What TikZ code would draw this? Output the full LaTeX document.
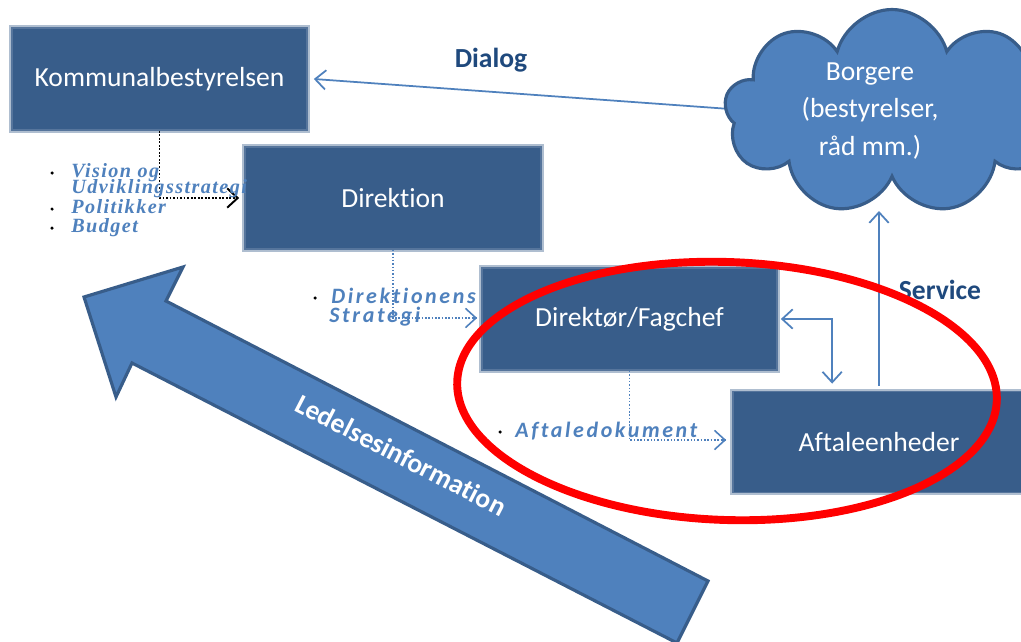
\documentclass[tikz,border=0pt]{standalone}
\usepackage{fontspec}
\setmainfont[Ligatures=CommonOff]{Carlito}
\newfontfamily\serifbullet[LetterSpace=7,Ligatures=CommonOff]{Liberation Serif}
\newfontfamily\sansbullet[LetterSpace=12,Ligatures=CommonOff]{Carlito}
\usetikzlibrary{shapes.symbols,arrows.meta,calc}
\definecolor{boxblue}{HTML}{385D8A}
\definecolor{accblue}{HTML}{4F81BD}
\definecolor{labblue}{HTML}{1F497D}
\begin{document}
\begin{tikzpicture}[x=0.02cm,y=-0.02cm,
  orgbox/.style={fill=boxblue, draw=boxblue!85!white, line width=1pt,
    preaction={draw=boxblue!40!white, line width=3pt},
    text=white, font=\fontsize{15.7}{19}\selectfont,
    minimum width=5.9cm, minimum height=2.04cm, inner sep=0pt},
  barb/.style={-{Straight Barb[length=6pt,width=11pt]}},
  conn/.style={draw=accblue, line width=1pt},
  blkdot/.style={draw=black, line width=1.1pt, dash pattern=on 1pt off 1pt},
  bludot/.style={draw=accblue, line width=0.9pt, dash pattern=on 0.9pt off 1pt},
  label/.style={text=labblue, font=\fontsize{15.7}{19}\selectfont\bfseries},
  bdot/.style={circle, fill=black, inner sep=0pt, minimum size=0.07cm},
  sbul/.style={anchor=base west, inner sep=0pt, text=accblue, font=\serifbullet\fontsize{11.5}{13}\selectfont\bfseries\itshape},
  cbul/.style={anchor=base west, inner sep=0pt, text=accblue, font=\sansbullet\fontsize{12.5}{14}\selectfont\bfseries\itshape},
  bigarrow/.style={fill=accblue, draw=boxblue, line width=1.8pt, line join=miter}
]
\clip (0,0) rectangle (1021,642);
\fill[white] (0,0) rectangle (1021,642);

% big arrow
\draw[bigarrow] (84,297) -- (183,267) -- (166,301) -- (708,581) -- (677,643) -- (132,363) -- (116,397) -- cycle;
\node[rotate=-27.3, text=white, font=\fontsize{15.7}{19}\selectfont\bfseries] (ledel) at (401,455) {Ledelsesinformation};

% boxes
\node[orgbox] (kom) at (159.5,79) {Kommunalbestyrelsen};
\node[orgbox, minimum width=5.92cm] (dirk) at (393,198) {Direktion};
\node[orgbox] (dir) at (629.5,319) {Direktør/Fagchef};
\node[orgbox, minimum width=5.84cm, minimum height=2.02cm] (aft) at (879,442) {Aftaleenheder};

% connectors to cloud (drawn under the cloud)
\coordinate (dlgstart) at (730,109);
\coordinate (svcend) at (879,211);
\draw[conn, barb] (dlgstart) -- ($(kom.east)+(6,0)$);
\draw[conn, barb] ($(aft.north)+(0,-5)$) -- (svcend);

% cloud
\node[cloud, cloud puffs=9, cloud ignores aspect, minimum width=6.7cm, minimum height=4.1cm,
  fill=accblue, draw=boxblue, line width=1.8pt, inner sep=0pt] (cloud) at (892,112) {};
\node[text=white, align=center, font=\fontsize{15.7}{21.5}\selectfont] (borg) at (870,111) {Borgere\\(bestyrelser,\\råd mm.)};

% labels
\node[label] (dialog) at (491,60) {Dialog};
\node[label] (service) at (940,290) {Service};

% other connectors
\draw[conn, {Straight Barb[length=6pt,width=11pt]}-{Straight Barb[length=6pt,width=11pt]}]
  ($(dir.east)+(3,0)$) -| ($(aft.north west)+(100,-7)$);
\draw[blkdot] (kom.south) |- ($(dirk.west)+(-5,0)$);
\draw[black, line width=1.1pt, barb] ($(dirk.west)+(-8,0)$) -- ($(dirk.west)+(-5,0)$);
\draw[bludot] (dirk.south) |- ($(dir.west)+(-4,-1)$);
\draw[conn, line width=0.9pt, barb] ($(dir.west)+(-8,-1)$) -- ($(dir.west)+(-4,-1)$);
\draw[bludot] (dir.south) |- ($(aft.west)+(-6,-2)$);
\draw[conn, line width=0.9pt, barb] ($(aft.west)+(-10,-2)$) -- ($(aft.west)+(-6,-2)$);

% bullet texts
\node[bdot] (d1) at (52,173) {};
\node[bdot] (d2) at (52,209) {};
\node[bdot] (d3) at (52,228) {};
\node[sbul] (t1) at (71,177) {Vision og};
\node[sbul] (t2) at (71,194) {Udviklingsstrategi};
\node[sbul] (t3) at (71,214) {Politikker};
\node[sbul] (t4) at (71,232) {Budget};
\node[bdot] (d4) at (315,298) {};
\node[cbul] (t5) at (331,303) {Direktionens};
\node[cbul] (t6) at (329,322) {Strategi};
\node[bdot] (d5) at (500,432) {};
\node[cbul] (t7) at (515,437) {Aftaledokument};

% red ellipse
\draw[red, line width=4.5pt, rotate around={-2:(727,391)}] (727,391) ellipse [x radius=5.4cm, y radius=2.58cm];
\end{tikzpicture}
\end{document}
